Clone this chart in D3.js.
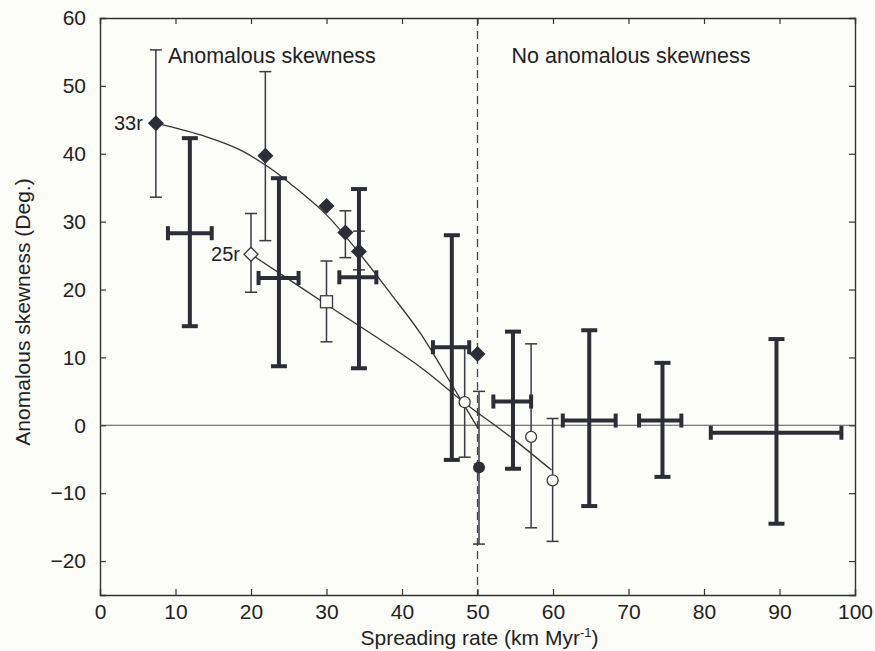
<!DOCTYPE html>
<html>
<head>
<meta charset="utf-8">
<script src="https://cdn.jsdelivr.net/npm/d3@7"></script>
<style>
  html, body { margin: 0; padding: 0; background: #fcfcf9; }
  svg { display: block; font-family: "Liberation Sans", Arial, Helvetica, sans-serif; }
</style>
</head>
<body>
<svg id="chart" width="875" height="651"></svg>
<script>
// ---- data -------------------------------------------------------------
// filled diamonds (with optional error bars)
const fdX  = [7.4, 21.9, 30.0, 32.5, 34.3, 50.0];
const fdY  = [44.5, 39.7, 32.3, 28.4, 25.6, 10.5];
const fdLo = [33.6, 27.2, null, 24.7, 22.9, null];
const fdHi = [55.3, 52.1, null, 31.6, 28.6, null];

// open diamond (25r)
const odX = [20.0], odY = [25.2], odLo = [19.6], odHi = [31.2];
// open square
const osX = [30.0], osY = [18.2], osLo = [12.3], osHi = [24.2];
// open circles
const ocX  = [48.3, 57.1, 59.95];
const ocY  = [3.4, -1.7, -8.1];
const ocLo = [-4.7, -15.1, -17.1];
const ocHi = [11.6, 12.0, 1.0];
// filled circle
const fcX = [50.2], fcY = [-6.2], fcLo = [-17.5], fcHi = [5.0];

// binned averages: thick crosses (x range and y range)
const crX   = [11.9, 23.7, 34.3, 46.6, 54.7, 64.8, 74.5, 89.6];
const crY   = [28.3, 21.7, 21.8, 11.5, 3.5, 0.7, 0.7, -1.1];
const crXLo = [9.0, 21.0, 31.7, 44.1, 52.1, 61.3, 71.4, 80.9];
const crXHi = [14.8, 26.3, 36.6, 48.9, 57.1, 68.3, 77.0, 98.2];
const crYLo = [14.6, 8.7, 8.4, -5.1, -6.4, -11.9, -7.6, -14.5];
const crYHi = [42.3, 36.4, 34.8, 28.0, 13.8, 14.0, 9.2, 12.7];

// fitted trend through filled symbols
const fitAX = [7.4, 14.1, 18.5, 22.5, 25.2, 30.0, 34.3, 38.5, 42.4, 46.8, 50.1];
const fitAY = [44.5, 42.5, 40.6, 37.9, 35.6, 31.0, 25.4, 19.4, 13.6, 5.6, -0.5];
// fitted trend through open symbols
const fitBX = [20.0, 30.0, 42.4, 48.3, 54.7, 59.8];
const fitBY = [25.2, 17.8, 8.6, 3.3, -2.0, -6.6];

const xTicks = [0, 10, 20, 30, 40, 50, 60, 70, 80, 90, 100];
const yTicks = [-20, -10, 0, 10, 20, 30, 40, 50, 60];

// ---- layout -----------------------------------------------------------
const ink = "#2c2d35";
const paper = "#fcfcf9";
const svg = d3.select("#chart");
const x = d3.scaleLinear().domain([0, 100]).range([100, 855]);
const y = d3.scaleLinear().domain([-25, 60]).range([595, 18]);

// zero line
svg.append("line")
  .attr("x1", x(0)).attr("x2", x(100))
  .attr("y1", y(0)).attr("y2", y(0))
  .attr("stroke", "#555").attr("stroke-width", 1.1);

// divider between regimes
svg.append("line")
  .attr("x1", x(50)).attr("x2", x(50))
  .attr("y1", y(60)).attr("y2", y(-25))
  .attr("stroke", "#444").attr("stroke-width", 1.3)
  .attr("stroke-dasharray", "8,5");

// axes with inward ticks on all sides
const fmt = d => d < 0 ? "\u2212" + Math.abs(d) : String(d);
const gB = svg.append("g").attr("transform", `translate(0,${y(-25)})`)
  .call(d3.axisBottom(x).tickValues(xTicks).tickSize(-6).tickPadding(9).tickFormat(fmt));
const gT = svg.append("g").attr("transform", `translate(0,${y(60)})`)
  .call(d3.axisTop(x).tickValues(xTicks).tickSize(-6).tickFormat(""));
const gL = svg.append("g").attr("transform", `translate(${x(0)},0)`)
  .call(d3.axisLeft(y).tickValues(yTicks).tickSize(-6).tickPadding(14).tickFormat(fmt));
const gR = svg.append("g").attr("transform", `translate(${x(100)},0)`)
  .call(d3.axisRight(y).tickValues(yTicks).tickSize(-6).tickFormat(""));
[gB, gT, gL, gR].forEach(g => {
  g.select(".domain").attr("stroke", "#333").attr("stroke-width", 1.4);
  g.selectAll(".tick line").attr("stroke", "#333").attr("stroke-width", 1.2);
  g.selectAll(".tick text").attr("fill", "#222").style("font-size", "21px")
    .style("font-family", "'Liberation Sans', Arial, sans-serif");
});
gT.selectAll(".tick").filter(d => d === 0 || d === 100).remove();
gB.selectAll(".tick line").filter(d => d === 0 || d === 100).remove();
gR.selectAll(".tick").filter(d => d === 60).remove();
gL.selectAll(".tick line").filter(d => d === 60).remove();

// trend curves
const lineGen = d3.line().x(d => x(d[0])).y(d => y(d[1])).curve(d3.curveCatmullRom.alpha(0.5));
svg.append("path").datum(d3.zip(fitAX, fitAY)).attr("d", lineGen)
  .attr("fill", "none").attr("stroke", "#333").attr("stroke-width", 1.3);
svg.append("path").datum(d3.zip(fitBX, fitBY)).attr("d", lineGen)
  .attr("fill", "none").attr("stroke", "#333").attr("stroke-width", 1.3);

// thin vertical error bar
function thinBar(g, cx, lo, hi) {
  if (lo == null || hi == null) return;
  const cap = 6;
  g.append("line").attr("x1", x(cx)).attr("x2", x(cx)).attr("y1", y(lo)).attr("y2", y(hi));
  g.append("line").attr("x1", x(cx) - cap).attr("x2", x(cx) + cap).attr("y1", y(lo)).attr("y2", y(lo));
  g.append("line").attr("x1", x(cx) - cap).attr("x2", x(cx) + cap).attr("y1", y(hi)).attr("y2", y(hi));
}
const bars = svg.append("g").attr("stroke", "#3a3b42").attr("stroke-width", 1.5);
fdX.forEach((v, i) => thinBar(bars, v, fdLo[i], fdHi[i]));
odX.forEach((v, i) => thinBar(bars, v, odLo[i], odHi[i]));
osX.forEach((v, i) => thinBar(bars, v, osLo[i], osHi[i]));
ocX.forEach((v, i) => thinBar(bars, v, ocLo[i], ocHi[i]));
fcX.forEach((v, i) => thinBar(bars, v, fcLo[i], fcHi[i]));

// thick crosses
const crosses = svg.append("g").attr("stroke", ink).attr("stroke-width", 4);
crX.forEach((cx, i) => {
  const px = x(cx), py = y(crY[i]);
  const vCap = 8, hCap = 7;
  crosses.append("line").attr("x1", px).attr("x2", px).attr("y1", y(crYLo[i])).attr("y2", y(crYHi[i]));
  crosses.append("line").attr("x1", px - vCap).attr("x2", px + vCap).attr("y1", y(crYLo[i])).attr("y2", y(crYLo[i]));
  crosses.append("line").attr("x1", px - vCap).attr("x2", px + vCap).attr("y1", y(crYHi[i])).attr("y2", y(crYHi[i]));
  crosses.append("line").attr("x1", x(crXLo[i])).attr("x2", x(crXHi[i])).attr("y1", py).attr("y2", py);
  crosses.append("line").attr("x1", x(crXLo[i])).attr("x2", x(crXLo[i])).attr("y1", py - hCap).attr("y2", py + hCap);
  crosses.append("line").attr("x1", x(crXHi[i])).attr("x2", x(crXHi[i])).attr("y1", py - hCap).attr("y2", py + hCap);
});

// symbols
const diamond = s => `M0,${-s}L${s},0L0,${s}L${-s},0Z`;
svg.append("g").selectAll("path").data(d3.zip(fdX, fdY)).join("path")
  .attr("d", diamond(8)).attr("transform", d => `translate(${x(d[0])},${y(d[1])})`)
  .attr("fill", ink);
svg.append("g").selectAll("path").data(d3.zip(odX, odY)).join("path")
  .attr("d", diamond(7)).attr("transform", d => `translate(${x(d[0])},${y(d[1])})`)
  .attr("fill", paper).attr("stroke", "#3a3b42").attr("stroke-width", 1.3);
svg.append("g").selectAll("rect").data(d3.zip(osX, osY)).join("rect")
  .attr("x", d => x(d[0]) - 6).attr("y", d => y(d[1]) - 6).attr("width", 12).attr("height", 12)
  .attr("fill", paper).attr("stroke", "#3a3b42").attr("stroke-width", 1.3);
svg.append("g").selectAll("circle").data(d3.zip(ocX, ocY)).join("circle")
  .attr("cx", d => x(d[0])).attr("cy", d => y(d[1])).attr("r", 5.5)
  .attr("fill", paper).attr("stroke", "#3a3b42").attr("stroke-width", 1.3);
svg.append("g").selectAll("circle").data(d3.zip(fcX, fcY)).join("circle")
  .attr("cx", d => x(d[0])).attr("cy", d => y(d[1])).attr("r", 6)
  .attr("fill", ink);

// point labels
svg.append("text").attr("x", x(fdX[0]) - 13).attr("y", y(fdY[0]) + 7)
  .attr("text-anchor", "end").style("font-size", "20px").attr("fill", "#222").text("33r");
svg.append("text").attr("x", x(odX[0]) - 11).attr("y", y(odY[0]) + 7)
  .attr("text-anchor", "end").style("font-size", "20px").attr("fill", "#222").text("25r");

// region captions
svg.append("text").attr("x", x(9.0)).attr("y", 63)
  .style("font-size", "21.5px").attr("fill", "#222").text("Anomalous skewness");
svg.append("text").attr("x", x(54.5)).attr("y", 63)
  .style("font-size", "21.5px").attr("fill", "#222").text("No anomalous skewness");

// axis titles
const xt = svg.append("text").attr("x", x(50) + 2).attr("y", 645)
  .attr("text-anchor", "middle").style("font-size", "21px").attr("fill", "#222");
xt.append("tspan").text("Spreading rate (km Myr");
xt.append("tspan").attr("dy", -8).style("font-size", "13px").text("-1");
xt.append("tspan").attr("dy", 8).text(")");

svg.append("text")
  .attr("transform", `translate(30,312) rotate(-90)`)
  .attr("text-anchor", "middle").style("font-size", "21px").attr("fill", "#222")
  .text("Anomalous skewness (Deg.)");
</script>
</body>
</html>
